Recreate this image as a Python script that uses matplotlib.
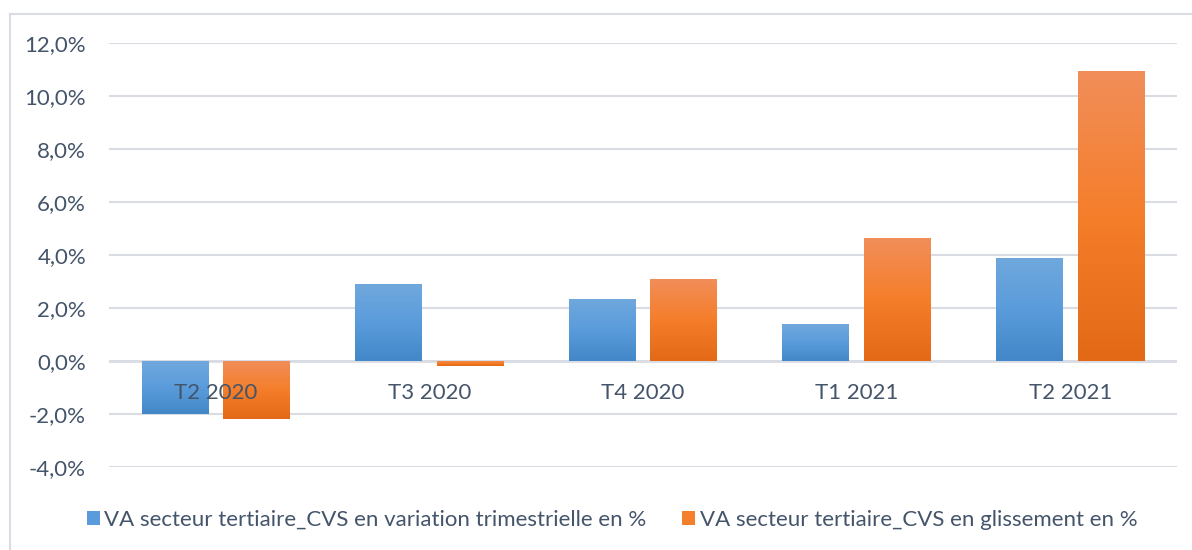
import numpy as np
import matplotlib.pyplot as plt
from matplotlib.colors import LinearSegmentedColormap
from matplotlib.ticker import FuncFormatter
from matplotlib.patches import Patch
from matplotlib.lines import Line2D

plt.rcParams['font.family'] = ['Lato', 'DejaVu Sans']

quarters = ["T2 2020", "T3 2020", "T4 2020", "T1 2021", "T2 2021"]
trimestrielle = [-2.0, 2.9, 2.35, 1.38, 3.9]
glissement = [-2.2, -0.2, 3.1, 4.65, 10.95]
series_names = ["VA secteur tertiaire_CVS en variation trimestrielle en %",
                "VA secteur tertiaire_CVS en glissement en %"]

text_col = '#44546A'
grid_col = '#D9DDE3'
blue_cm = LinearSegmentedColormap.from_list('b', ['#70A8DD', '#5A9CDB', '#4387C8'])
orange_cm = LinearSegmentedColormap.from_list('o', ['#F18E5A', '#F57E2B', '#E36916'])

fig = plt.figure(figsize=(11.92, 5.5), dpi=100)
ax = fig.add_axes([109/1192, 1 - 467/550, (1177 - 109)/1192, (467 - 43)/550])

x = np.arange(len(quarters))
w = 0.312
off = 0.191

# gradient fill for each bar (light at top, dark at bottom)
grad = np.linspace(0, 1, 256).reshape(-1, 1)
for vals, dx, cm in [(trimestrielle, -off, blue_cm), (glissement, off, orange_cm)]:
    bars = ax.bar(x + dx, vals, w, color='none', edgecolor='none', zorder=2)
    for b, v in zip(bars, vals):
        x0 = b.get_x()
        top = max(v, 0)
        bot = min(v, 0)
        im = ax.imshow(grad, cmap=cm, aspect='auto', origin='upper',
                       extent=[x0, x0 + w, bot, top], zorder=2)
        im.set_clip_path(b)

ax.set_xlim(-0.5, len(quarters) - 0.5)
ax.set_ylim(-4, 12)
ax.set_yticks(np.arange(-4, 13, 2))
ax.yaxis.set_major_formatter(FuncFormatter(lambda v, p: f"{v:.1f}%".replace('.', ',')))
ax.grid(axis='y', color=grid_col, linewidth=1.5, zorder=0)
ax.axhline(0, color=grid_col, linewidth=2, zorder=1)
for s in ax.spines.values():
    s.set_visible(False)
ax.set_xticks(x)
ax.set_xticklabels(quarters)
ax.spines['bottom'].set_position(('data', 0))
ax.xaxis.set_zorder(5)
ax.tick_params(axis='x', length=0, pad=16, labelsize=16, labelcolor=text_col)
ax.tick_params(axis='y', length=0, pad=16.5, labelsize=16, labelcolor=text_col)

# chart frame
fig.add_artist(Line2D([10/1192, 1.0], [1 - 14/550] * 2, color='#D9DDE3', lw=1.5))
fig.add_artist(Line2D([10/1192] * 2, [0, 1 - 14/550], color='#D9DDE3', lw=1.5))

handles = [Patch(facecolor='#5A9CDB'), Patch(facecolor='#F47F2C')]
fig.legend(handles, series_names, loc='center', bbox_to_anchor=(612/1192, 1 - 520/550),
           ncol=2, frameon=False, fontsize=16, labelcolor=text_col,
           handlelength=0.6, handleheight=0.6, handletextpad=0.2, columnspacing=1.6)

fig.savefig('out.png', dpi=100)
